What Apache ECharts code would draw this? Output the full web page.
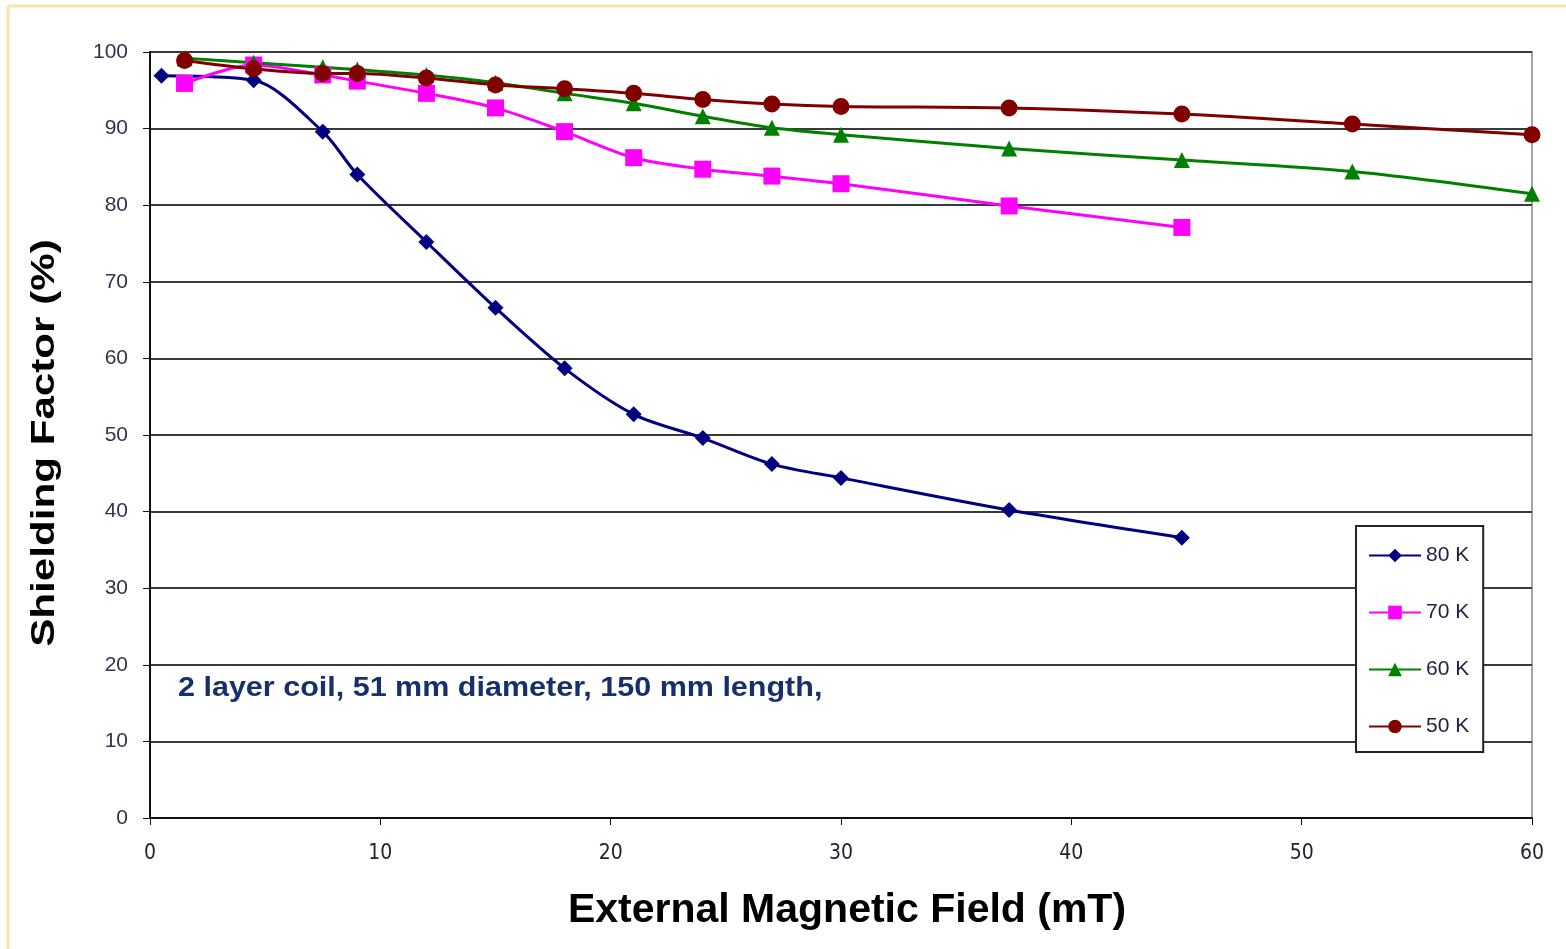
<!DOCTYPE html>
<html>
<head>
<meta charset="utf-8">
<script src="https://cdn.jsdelivr.net/npm/echarts@6/dist/echarts.min.js"></script>
<style>
  html, body { margin: 0; padding: 0; background: #fff; }
  #chart { width: 1566px; height: 949px; }
</style>
</head>
<body>
<div id="chart"></div>
<script>
  // external field (mT) for each temperature
  var field80 = [0.5, 4.5, 7.5, 9, 12, 15, 18, 21, 24, 27, 30, 37.3, 44.8]
  var field70 = [1.5, 4.5, 7.5, 9, 12, 15, 18, 21, 24, 27, 30, 37.3, 44.8]
  var field60 = [1.5, 4.5, 7.5, 9, 12, 15, 18, 21, 24, 27, 30, 37.3, 44.8, 52.2, 60]
  var field50 = [1.5, 4.5, 7.5, 9, 12, 15, 18, 21, 24, 27, 30, 37.3, 44.8, 52.2, 60]

  // shielding factor (%)
  var shield80 = [96.9, 96.3, 89.6, 84.0, 75.2, 66.6, 58.7, 52.7, 49.6, 46.2, 44.4, 40.2, 36.6]
  var shield70 = [95.9, 98.3, 97.0, 96.2, 94.6, 92.7, 89.6, 86.2, 84.7, 83.8, 82.8, 79.9, 77.1]
  var shield60 = [99.2, 98.6, 98.0, 97.7, 97.0, 96.0, 94.6, 93.3, 91.6, 90.1, 89.2, 87.4, 85.9, 84.4, 81.5]
  var shield50 = [98.9, 97.8, 97.2, 97.2, 96.6, 95.7, 95.2, 94.6, 93.8, 93.2, 92.9, 92.7, 91.9, 90.6, 89.2]

  var seriesNames = ['80 K', '70 K', '60 K', '50 K']
  var noteText = '2 layer coil, 51 mm diameter, 150 mm length,'

  function pairs(xs, ys) {
    return xs.map(function (x, i) { return [x, ys[i]] })
  }

  function lineSeries(name, data, color, symbol, size) {
    return {
      name: name,
      type: 'line',
      smooth: 0.3,
      data: data,
      symbol: symbol,
      symbolSize: size,
      itemStyle: { color: color },
      lineStyle: { color: color, width: 3 },
      emphasis: { disabled: true },
      animation: false
    }
  }

  var chart = echarts.init(document.getElementById('chart'))

  chart.setOption({
    backgroundColor: '#ffffff',
    grid: {
      left: 150,
      right: 34,
      top: 52,
      bottom: 131,
      show: true,
      borderColor: '#a6a6a6',
      borderWidth: 2,
      backgroundColor: '#ffffff'
    },
    legend: {
      orient: 'vertical',
      left: 1356,
      top: 526,
      width: 127,
      padding: [19, 14, 15, 12],
      itemGap: 36,
      itemWidth: 52,
      itemHeight: 17,
      backgroundColor: '#ffffff',
      borderColor: '#222222',
      borderWidth: 2,
      borderRadius: 0,
      textStyle: {
        fontFamily: 'Liberation Sans, Arial, sans-serif',
        fontSize: 21,
        color: '#222244'
      },
      data: seriesNames
    },
    xAxis: {
      type: 'value',
      min: 0,
      max: 60,
      interval: 10,
      axisLine: { show: true, lineStyle: { color: '#111', width: 2 } },
      axisTick: { show: true, length: 7, lineStyle: { color: '#111', width: 1 } },
      axisLabel: {
        margin: 25,
        fontFamily: 'Liberation Sans Narrow, DejaVu Sans Condensed, Liberation Sans, sans-serif',
        fontSize: 21,
        color: '#222233'
      },
      splitLine: { show: false }
    },
    yAxis: {
      type: 'value',
      min: 0,
      max: 100,
      interval: 10,
      axisLine: { show: true, lineStyle: { color: '#111', width: 2 } },
      axisTick: { show: true, length: 7, lineStyle: { color: '#111', width: 1 } },
      axisLabel: {
        margin: 22,
        fontFamily: 'Liberation Sans, Arial, sans-serif',
        fontSize: 21,
        color: '#33334d'
      },
      splitLine: { show: true, lineStyle: { color: '#3a3a3a', width: 2 } }
    },
    graphic: [
      { type: 'line', shape: { x1: 8, y1: 6, x2: 1566, y2: 6 }, style: { stroke: '#f8e3a8', lineWidth: 3 } },
      { type: 'line', shape: { x1: 8, y1: 6, x2: 8, y2: 949 }, style: { stroke: '#f8e3a8', lineWidth: 3 } },
      {
        type: 'text',
        x: 45,
        y: 443,
        rotation: Math.PI / 2,
        scaleX: 1.24,
        style: {
          text: 'Shielding Factor (%)',
          fontFamily: 'Liberation Sans, Arial, sans-serif',
          fontWeight: 'bold',
          fontSize: 34,
          fill: '#000',
          align: 'center',
          verticalAlign: 'middle'
        }
      },
      {
        type: 'text',
        x: 847,
        y: 911,
        style: {
          text: 'External Magnetic Field (mT)',
          fontFamily: 'Liberation Sans Narrow, Liberation Sans, Arial, sans-serif',
          fontWeight: 'bold',
          fontSize: 41,
          fill: '#000',
          align: 'center',
          verticalAlign: 'middle'
        }
      },
      {
        type: 'text',
        x: 178,
        y: 689,
        scaleX: 1.13,
        style: {
          text: noteText,
          fontFamily: 'Liberation Sans, Arial, sans-serif',
          fontWeight: 'bold',
          fontSize: 27,
          fill: '#17306b',
          align: 'left',
          verticalAlign: 'middle'
        }
      }
    ],
    series: [
      lineSeries(seriesNames[0], pairs(field80, shield80), '#000080', 'diamond', 16),
      lineSeries(seriesNames[1], pairs(field70, shield70), '#ff00ff', 'rect', 17),
      lineSeries(seriesNames[2], pairs(field60, shield60), '#008000', 'triangle', 16),
      lineSeries(seriesNames[3], pairs(field50, shield50), '#800000', 'circle', 17)
    ]
  })
</script>
</body>
</html>
